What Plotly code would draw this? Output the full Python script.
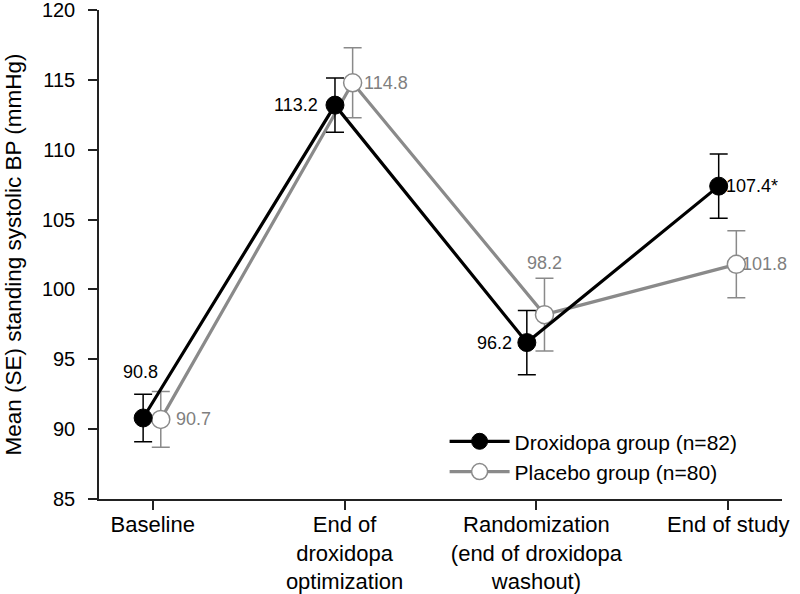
import plotly.graph_objects as go

# ---- data ----
categories = ["Baseline",
              "End of<br>droxidopa<br>optimization",
              "Randomization<br>(end of droxidopa<br>washout)",
              "End of study"]
cat_index = [0, 1, 2, 3]

droxidopa_mean = [90.8, 113.2, 96.2, 107.4]
droxidopa_se = [1.7, 1.95, 2.3, 2.3]
droxidopa_text = ["90.8", "113.2", "96.2", "107.4*"]

placebo_mean = [90.7, 114.8, 98.2, 101.8]
placebo_se = [2.0, 2.5, 2.6, 2.4]
placebo_text = ["90.7", "114.8", "98.2", "101.8"]

y_ticks = [85, 90, 95, 100, 105, 110, 115, 120]

BLACK = "#000000"
GRAY = "#8a8a8a"
GRAY_TXT = "#7f7f7f"
FONT = "Liberation Sans, Arial, sans-serif"

drox_x = [c - 0.05 for c in cat_index]
plac_x = [c + 0.042 for c in cat_index]

fig = go.Figure()

fig.add_trace(go.Scatter(
    x=plac_x, y=placebo_mean, mode="lines+markers",
    name="Placebo group (n=80)",
    line=dict(color=GRAY, width=3.2),
    marker=dict(size=18, color="white", line=dict(color=GRAY, width=1.5)),
    error_y=dict(type="data", array=placebo_se, color=GRAY, thickness=1.5, width=9),
    cliponaxis=False,
))
fig.add_trace(go.Scatter(
    x=drox_x, y=droxidopa_mean, mode="lines+markers",
    name="Droxidopa group (n=82)",
    line=dict(color=BLACK, width=3.2),
    marker=dict(size=18, color=BLACK, line=dict(color=BLACK, width=1)),
    error_y=dict(type="data", array=droxidopa_se, color=BLACK, thickness=1.5, width=9),
    cliponaxis=False,
))

# value labels
drox_pos = [("center", -3, 46), ("right", -15, 0), ("right", -13, 0), ("left", 5, 0)]
plac_pos = [("left", 13, 0), ("left", 9, 0), ("center", 0, 52), ("left", 4, 0)]
for x, y, t, (anc, xs, ys) in zip(drox_x, droxidopa_mean, droxidopa_text, drox_pos):
    fig.add_annotation(x=x, y=y, text=t, showarrow=False, xanchor=anc, yanchor="middle",
                       xshift=xs, yshift=ys, font=dict(size=18, color=BLACK, family=FONT))
for x, y, t, (anc, xs, ys) in zip(plac_x, placebo_mean, placebo_text, plac_pos):
    fig.add_annotation(x=x, y=y, text=t, showarrow=False, xanchor=anc, yanchor="middle",
                       xshift=xs, yshift=ys, font=dict(size=18, color=GRAY_TXT, family=FONT))

fig.update_layout(
    width=800, height=594,
    margin=dict(l=99, r=18, t=10, b=95),
    paper_bgcolor="white", plot_bgcolor="white",
    font=dict(family=FONT, size=20, color=BLACK),
    showlegend=True,
    legend=dict(x=0.506, y=0.014, xanchor="left", yanchor="bottom",
                traceorder="reversed", font=dict(size=21, color=BLACK),
                bgcolor="rgba(0,0,0,0)", itemwidth=60, tracegroupgap=0),
    xaxis=dict(range=[-0.28, 3.28], tickvals=cat_index, ticktext=categories,
               showline=True, linecolor="#222", linewidth=1.5,
               ticks="outside", ticklen=9, tickcolor="#222", tickwidth=1.5,
               ticklabelstandoff=-4,
               automargin=False, ticklabeloverflow="allow",
               showgrid=False, zeroline=False, tickfont=dict(size=22)),
    yaxis=dict(range=[85, 120.01], tickvals=y_ticks,
               showline=True, linecolor="#222", linewidth=1.5,
               ticks="outside", ticklen=9, tickcolor="#222", tickwidth=1.5,
               ticklabelstandoff=9, automargin=False, ticklabeloverflow="allow",
               showgrid=False, zeroline=False, tickfont=dict(size=20),
               title=dict(text="Mean (SE) standing systolic BP (mmHg)",
                          font=dict(size=22.5), standoff=14)),
)

fig.write_html("out.html",
               config={"displayModeBar": False},
               post_script="document.body.style.margin='0';document.body.style.padding='0';")
